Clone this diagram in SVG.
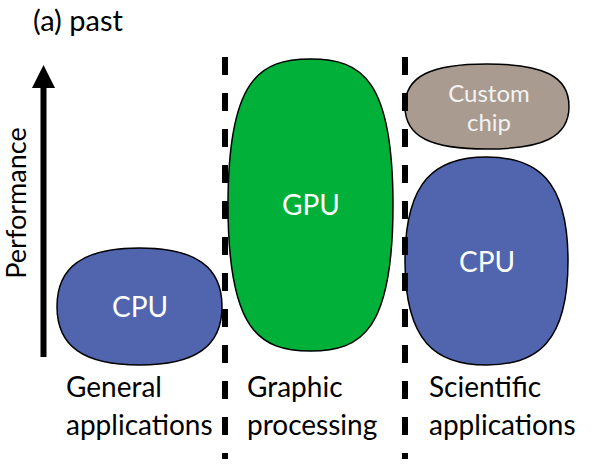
<svg xmlns="http://www.w3.org/2000/svg" width="596" height="473" viewBox="0 0 596 473">
  <style>
    .t { font-family: Lato, "Open Sans", "Liberation Sans", sans-serif; }
    .lbl { font-size: 28px; fill: #000; }
    .in { font-size: 28px; fill: #fff; text-anchor: middle; }
    .sm { font-size: 24px; fill: #f2f2f2; }
    .blob { stroke: #000; stroke-width: 1.5; }
    .cpu { fill: #5065AE; }
    .gpu { fill: #00B038; }
    .chip { fill: #A99B8F; }
    .div { stroke: #000; stroke-width: 6; stroke-dasharray: 18 18; fill: none; }
  </style>
  <rect width="596" height="473" fill="#fff"/>
  <text class="t" x="33" y="31" font-size="29">(a) past</text>
  <text class="t" font-size="27" text-anchor="middle" transform="translate(26,203) rotate(-90)">Performance</text>

  <g id="cpu-general">
    <path class="blob cpu" d="M139.5,248 C195.6,248 222,266.7 222,306.5 C222,346.3 195.6,365 139.5,365 C83.4,365 57,346.3 57,306.5 C57,266.7 83.4,248 139.5,248Z"/>
    <text class="t in" x="140" y="317">CPU</text>
  </g>
  <g id="gpu">
    <path class="blob gpu" d="M310.5,59 C361.7,59 393,79.4 393,205 C393,330.6 361.7,351 310.5,351 C259.3,351 228,330.6 228,205 C228,79.4 259.3,59 310.5,59Z"/>
    <text class="t in" x="311" y="215">GPU</text>
  </g>
  <g id="custom-chip">
    <path class="blob chip" d="M487,64 C542.8,64 569,75.9 569,106.5 C569,137.1 542.8,149 487,149 C431.2,149 405,137.1 405,106.5 C405,75.9 431.2,64 487,64Z"/>
    <text class="t in sm" x="489" y="102">Custom</text>
    <text class="t in sm" x="489" y="131">chip</text>
  </g>
  <g id="cpu-scientific">
    <path class="blob cpu" d="M486.5,157 C537,157 568,179.9 568,261 C568,342.1 537,365 486.5,365 C436,365 405,342.1 405,261 C405,179.9 436,157 486.5,157Z"/>
    <text class="t in" x="487" y="272">CPU</text>
  </g>

  <g id="connectors">
    <line x1="43.5" y1="357" x2="43.5" y2="84" stroke="#000" stroke-width="6"/>
    <polygon points="43.5,65 32,88 55,88" fill="#000"/>
    <line class="div" x1="225" y1="57" x2="225" y2="459"/>
    <line class="div" x1="405" y1="57" x2="405" y2="459"/>
  </g>

  <g id="labels">
    <text class="t lbl" x="66" y="397">General</text>
    <text class="t lbl" x="66" y="435">applications</text>
    <text class="t lbl" x="247" y="397">Graphic</text>
    <text class="t lbl" x="247" y="435">processing</text>
    <text class="t lbl" x="429" y="397">Scientific</text>
    <text class="t lbl" x="429" y="435">applications</text>
  </g>
</svg>
